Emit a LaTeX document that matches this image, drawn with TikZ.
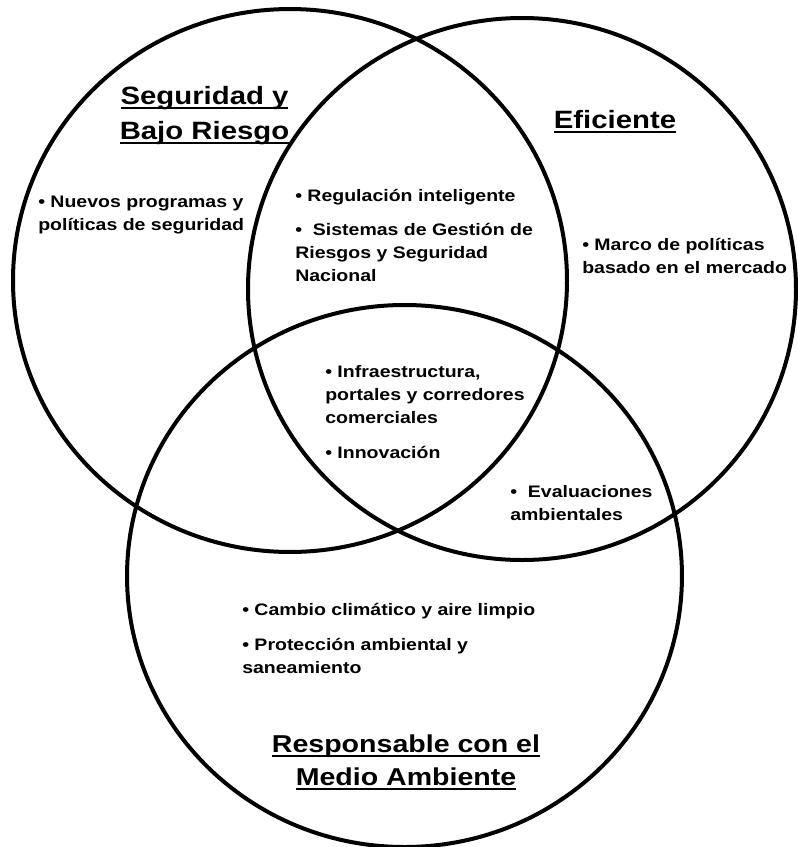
\documentclass[tikz,border=0pt]{standalone}
\usepackage{fontspec}
\setmainfont{Liberation Sans}
\newfontfamily\widesans[FakeStretch=1.17]{Liberation Sans}
\newcommand\headline[1]{\setbox0\hbox{#1}\rlap{\rule[-4.1pt]{\wd0}{1.5pt}}\box0}
\tikzset{
  ring/.style={line width=3pt},
  body/.style={font=\widesans\fontsize{12.5pt}{17.25pt}\selectfont\bfseries, align=left,
               anchor=base west, inner sep=0pt},
  head/.style={font=\widesans\fontsize{18.8pt}{26.25pt}\selectfont\bfseries, align=center,
               anchor=base, inner sep=0pt}
}
\begin{document}
\begin{tikzpicture}[x=0.75pt, y=-0.75pt]
  \useasboundingbox (0,0) rectangle (798,847);

  % the three overlapping rings
  \draw[ring] (290,280.5) ellipse [x radius=207.75pt, y radius=203.6pt];
  \draw[ring] (522,289) ellipse [x radius=205.5pt, y radius=203.25pt];
  \draw[ring] (404.5,576) ellipse [x radius=208.1pt, y radius=203.25pt];

  % ring titles (multi-line nodes sit on the baseline of their last line)
  \node[head] (tsafe) at (204.5,139) {\headline{Seguridad y}\\\headline{Bajo Riesgo}};
  \node[head] (teff) at (615,128) {\headline{Eficiente}};
  \node[head, font=\widesans\fontsize{18.3pt}{24.75pt}\selectfont\bfseries] (tenv)
    at (406,785) {\headline{Responsable con el}\\\headline{Medio Ambiente}};

  % items in each region
  \node[body] (safe) at (38,230) {• Nuevos programas y\\políticas de seguridad};
  \node[body] (safeeff) at (295,281) {• Regulación inteligente\\[8.25pt]%
    •\ \ Sistemas de Gestión de\\Riesgos y Seguridad\\Nacional};
  \node[body] (eff) at (582,273) {• Marco de políticas\\basado en el mercado};
  \node[body] (all) at (325,458) {• Infraestructura,\\portales y corredores\\comerciales\\[9pt]%
    • Innovación};
  \node[body] (effenv) at (510,520) {•\ \ Evaluaciones\\ambientales};
  \node[body] (env) at (242,673) {• Cambio climático y aire limpio\\[9pt]%
    • Protección ambiental y\\saneamiento};
\end{tikzpicture}
\end{document}
